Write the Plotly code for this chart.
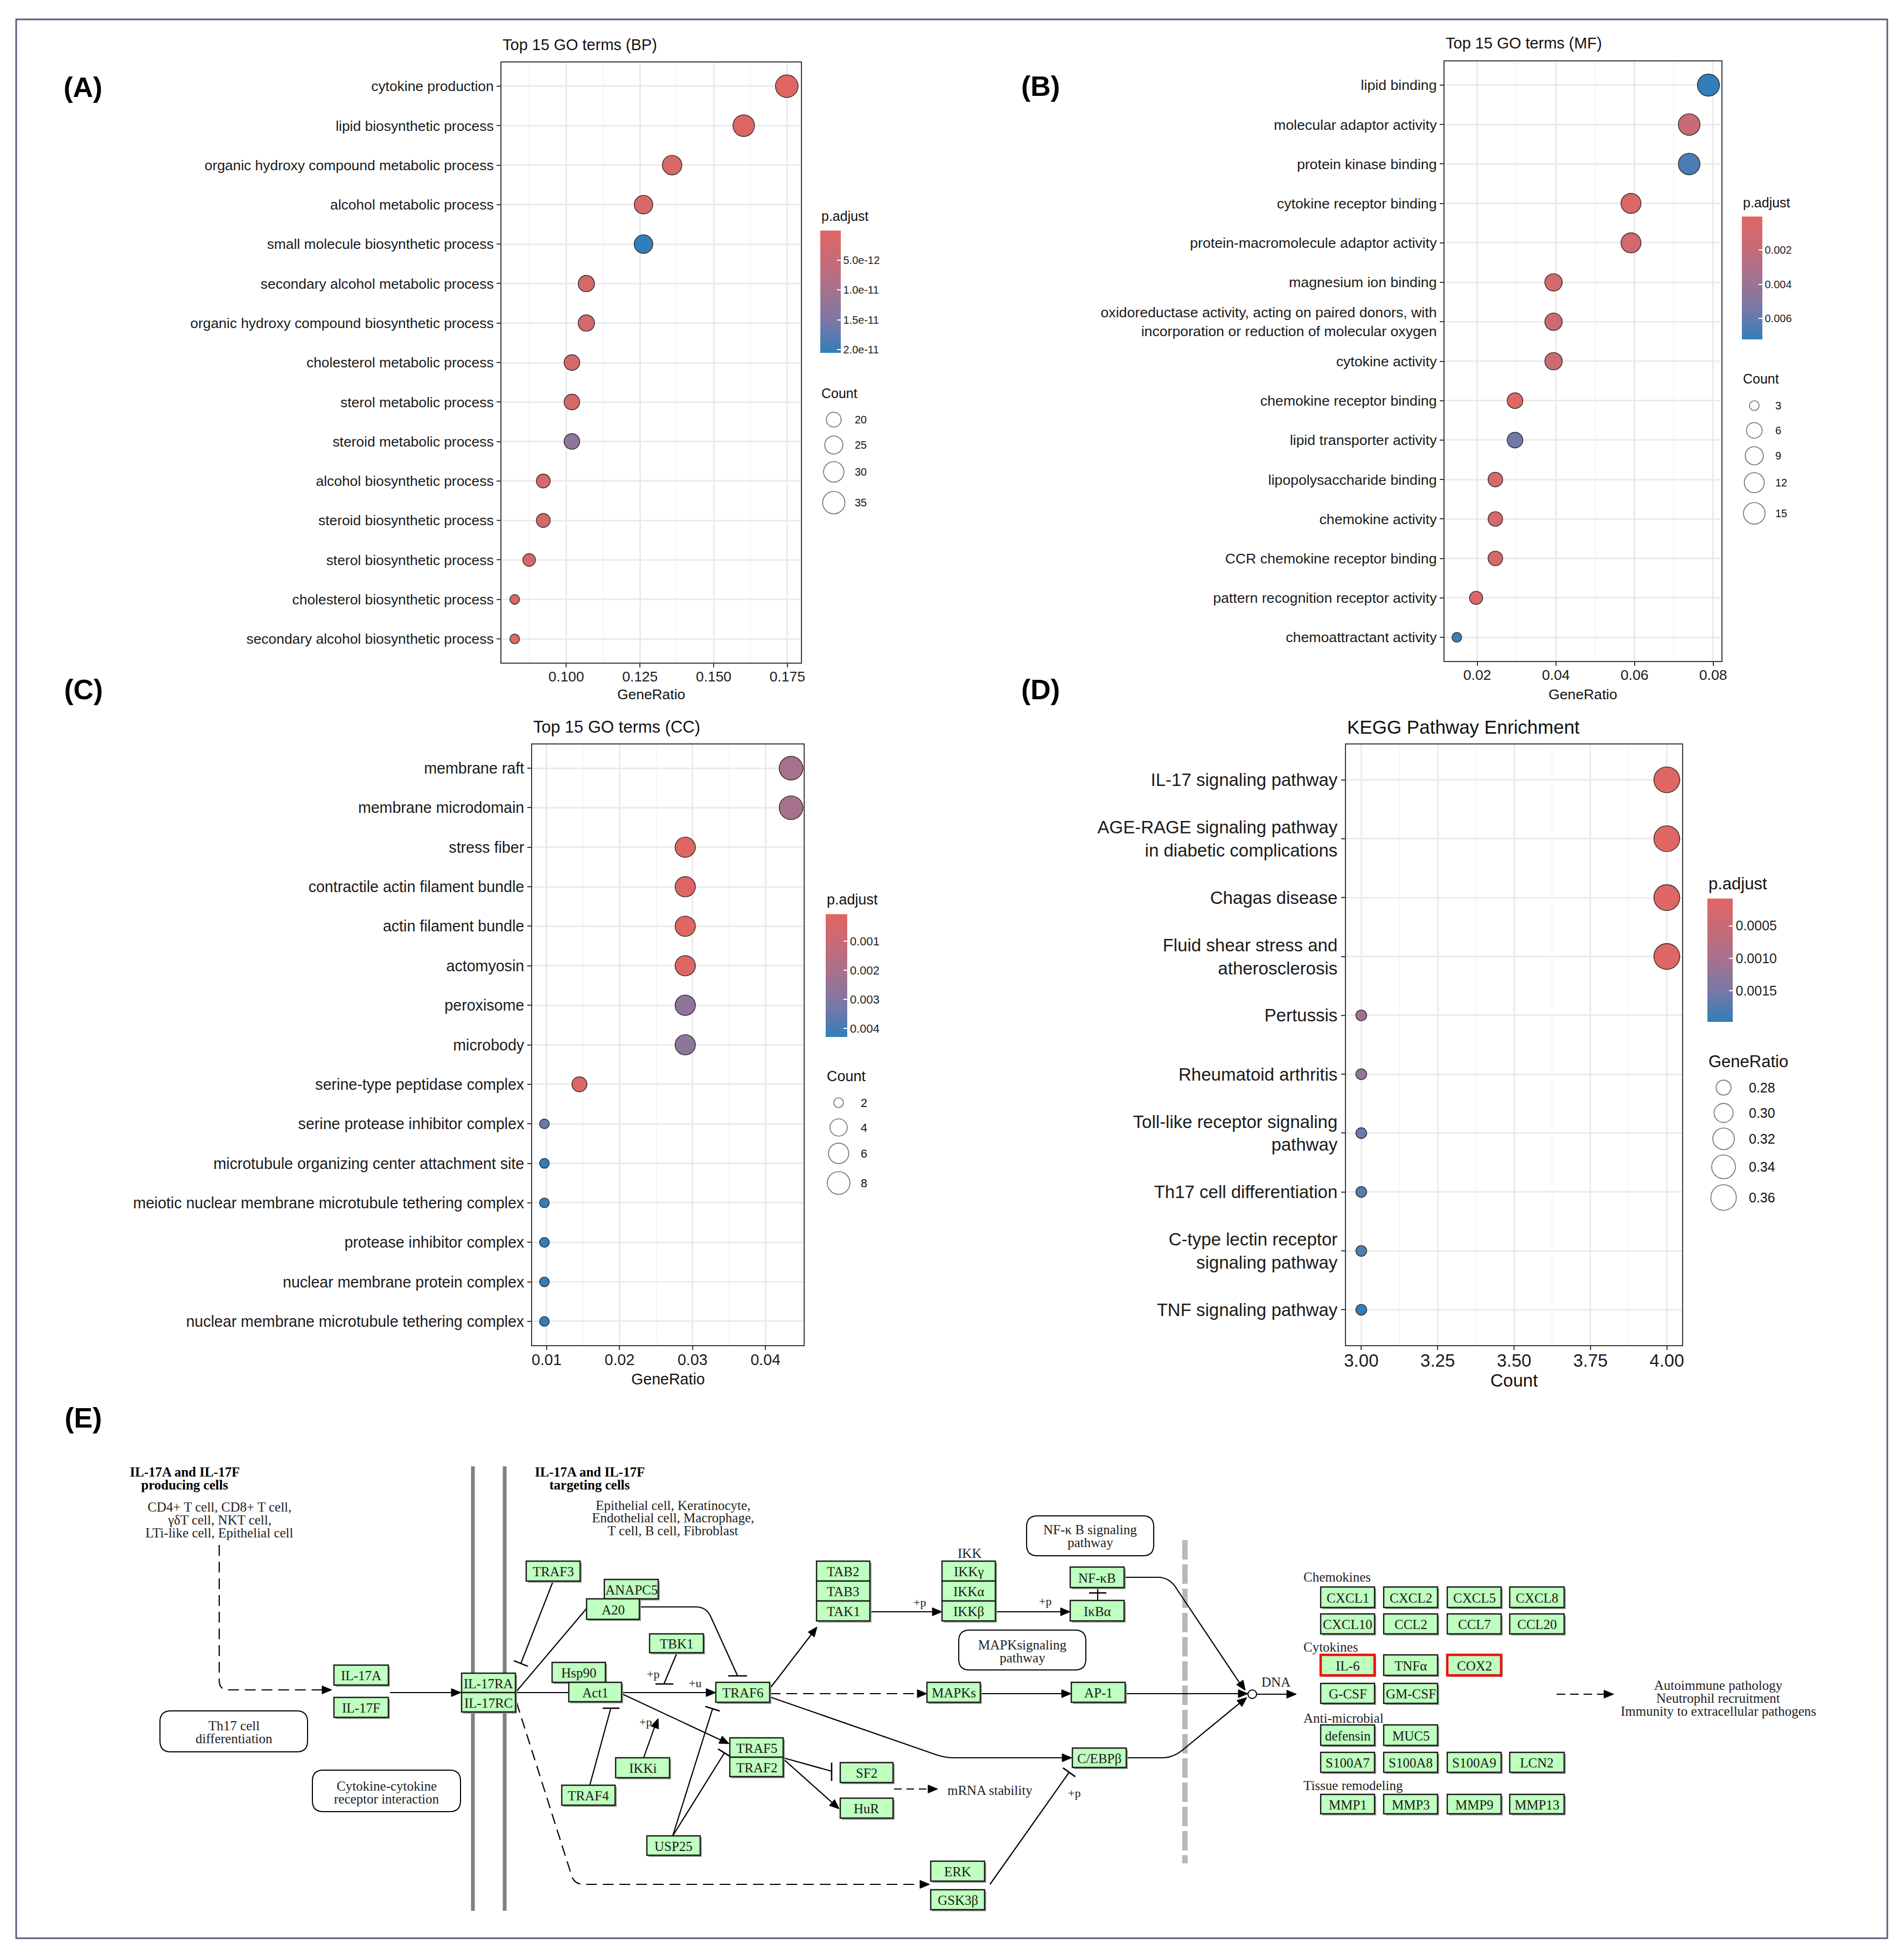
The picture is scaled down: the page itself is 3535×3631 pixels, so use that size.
import numpy as np
import plotly.graph_objects as go

W, H = 3535, 3631
SANS = "Liberation Sans, Arial, sans-serif"
SERIF = "Liberation Serif, Times New Roman, serif"
CS = [[0, '#327eba'], [0.25, '#7878a6'], [0.5, '#a4728f'], [0.75, '#c66b77'], [1, '#e06663']]

# ---------------- data ----------------
bp_terms = ["cytokine production", "lipid biosynthetic process",
            "organic hydroxy compound metabolic process", "alcohol metabolic process",
            "small molecule biosynthetic process", "secondary alcohol metabolic process",
            "organic hydroxy compound biosynthetic process", "cholesterol metabolic process",
            "sterol metabolic process", "steroid metabolic process", "alcohol biosynthetic process",
            "steroid biosynthetic process", "sterol biosynthetic process",
            "cholesterol biosynthetic process", "secondary alcohol biosynthetic process"]
bp_ratio = [0.1748, 0.1602, 0.1359, 0.1262, 0.1262, 0.1068, 0.1068, 0.1019, 0.1019, 0.1019,
            0.0922, 0.0922, 0.0874, 0.0825, 0.0825]
bp_count = [36, 33, 28, 26, 26, 22, 22, 21, 21, 21, 19, 19, 18, 17, 17]
bp_padj = [1.0e-13, 6e-13, 1.2e-12, 1.5e-12, 2.05e-11, 2.0e-12, 2.2e-12, 1.8e-12, 2.0e-12,
           1.25e-11, 1.5e-12, 2.3e-12, 1.4e-12, 1.0e-12, 1.1e-12]
bp_cb_ticks = [5e-12, 1e-11, 1.5e-11, 2e-11]
bp_cb_labels = ["5.0e-12", "1.0e-11", "1.5e-11", "2.0e-11"]
bp_size_breaks = [20, 25, 30, 35]

mf_terms = ["lipid binding", "molecular adaptor activity", "protein kinase binding",
            "cytokine receptor binding", "protein-macromolecule adaptor activity",
            "magnesium ion binding",
            "oxidoreductase activity, acting on paired donors, with<br>incorporation or reduction of molecular oxygen",
            "cytokine activity", "chemokine receptor binding", "lipid transporter activity",
            "lipopolysaccharide binding", "chemokine activity", "CCR chemokine receptor binding",
            "pattern recognition receptor activity", "chemoattractant activity"]
mf_ratio = [0.0788, 0.0739, 0.0739, 0.0591, 0.0591, 0.0394, 0.0394, 0.0394, 0.0296, 0.0296,
            0.0246, 0.0246, 0.0246, 0.0197, 0.0148]
mf_count = [16, 15, 15, 12, 12, 8, 8, 8, 6, 6, 5, 5, 5, 4, 3]
mf_padj = [0.00723, 0.0016, 0.0066, 0.0004, 0.0009, 0.0008, 0.0015, 0.0014, 0.00004, 0.0056,
           0.0006, 0.0006, 0.0007, 0.0003, 0.0068]
mf_cb_ticks = [0.002, 0.004, 0.006]
mf_cb_labels = ["0.002", "0.004", "0.006"]
mf_size_breaks = [3, 6, 9, 12, 15]

cc_terms = ["membrane raft", "membrane microdomain", "stress fiber",
            "contractile actin filament bundle", "actin filament bundle", "actomyosin",
            "peroxisome", "microbody", "serine-type peptidase complex",
            "serine protease inhibitor complex", "microtubule organizing center attachment site",
            "meiotic nuclear membrane microtubule tethering complex", "protease inhibitor complex",
            "nuclear membrane protein complex", "nuclear membrane microtubule tethering complex"]
cc_ratio = [0.0435, 0.0435, 0.0290, 0.0290, 0.0290, 0.0290, 0.0290, 0.0290, 0.0145, 0.0097,
            0.0097, 0.0097, 0.0097, 0.0097, 0.0097]
cc_count = [9, 9, 6, 6, 6, 6, 6, 6, 3, 2, 2, 2, 2, 2, 2]
cc_padj = [0.0021, 0.0021, 0.00008, 0.0001, 0.0001, 0.00015, 0.0027, 0.0027, 0.0002, 0.0035,
           0.00429, 0.00429, 0.00429, 0.00429, 0.00429]
cc_cb_ticks = [0.001, 0.002, 0.003, 0.004]
cc_cb_labels = ["0.001", "0.002", "0.003", "0.004"]
cc_size_breaks = [2, 4, 6, 8]

kegg_terms = ["IL-17 signaling pathway", "AGE-RAGE signaling pathway<br>in diabetic complications",
              "Chagas disease", "Fluid shear stress and<br>atherosclerosis", "Pertussis",
              "Rheumatoid arthritis", "Toll-like receptor signaling<br>pathway",
              "Th17 cell differentiation", "C-type lectin receptor<br>signaling pathway",
              "TNF signaling pathway"]
kegg_count = [4, 4, 4, 4, 3, 3, 3, 3, 3, 3]
kegg_ratio = [0.364, 0.364, 0.364, 0.364, 0.273, 0.273, 0.273, 0.273, 0.273, 0.273]
kegg_padj = [0.000079, 0.00009, 0.0001, 0.00012, 0.0011, 0.00125, 0.0016, 0.0017, 0.00175, 0.00198]
kegg_cb_ticks = [0.0005, 0.0010, 0.0015]
kegg_cb_labels = ["0.0005", "0.0010", "0.0015"]
kegg_size_breaks = [0.28, 0.30, 0.32, 0.34, 0.36]


def size_scale(v, lo, hi, dmin, dmax):
    v = np.asarray(v, float)
    return dmin + (dmax - dmin) * np.sqrt(np.clip((v - lo) / (hi - lo), 0, 1))


fig = go.Figure()
layout = {}
shapes, annos = [], []


def T(x, y, text, size, color='#111111', xa='center', ya='middle', font=SANS):
    annos.append(dict(x=x, y=y, xref='x5', yref='y5', text=text, showarrow=False,
                      xanchor=xa, yanchor=ya, font=dict(size=size, color=color, family=font)))


panels = [
    dict(i=1, terms=bp_terms, x=bp_ratio, s=bp_count, p=bp_padj, sb=bp_size_breaks,
         dom=(931, 1487, 116, 1230), xr=(0.078, 0.1796), dtick=0.025, tick0=0.1, mdt=0.0125,
         fmt='.3f', fs=26.4, title="Top 15 GO terms (BP)", tfs=29, tpos=(931, 83),
         xt="GeneRatio", xtpos=(1209, 1289), drange=(18, 42), tso=-6,
         cb=(1523, 428, 38, 227), cbt=bp_cb_ticks, cbl=bp_cb_labels, cbfs=20,
         pt=(1523, 401), ltfs=25, st="Count", stpos=(1523, 730),
         lx=1548, ly=[779, 826, 876, 933], llx=1585, lfs=20),
    dict(i=2, terms=mf_terms, x=mf_ratio, s=mf_count, p=mf_padj, sb=mf_size_breaks,
         dom=(2682, 3196, 114, 1227), xr=(0.01168, 0.0821), dtick=0.02, tick0=0.02, mdt=0.01,
         fmt='.2f', fs=26.7, title="Top 15 GO terms (MF)", tfs=29, tpos=(2682, 80),
         xt="GeneRatio", xtpos=(2939, 1289), drange=(18, 41), tso=-6,
         cb=(3234, 402, 38, 228), cbt=mf_cb_ticks, cbl=mf_cb_labels, cbfs=20,
         pt=(3234, 376), ltfs=25, st="Count", stpos=(3234, 703),
         lx=3257, ly=[753, 799, 846, 896, 953], llx=3294, lfs=20),
    dict(i=3, terms=cc_terms, x=cc_ratio, s=cc_count, p=cc_padj, sb=cc_size_breaks,
         dom=(988, 1492, 1382, 2497), xr=(0.00802, 0.04522), dtick=0.01, tick0=0.01, mdt=0.005,
         fmt='.2f', fs=28.6, title="Top 15 GO terms (CC)", tfs=31, tpos=(988, 1349),
         xt="GeneRatio", xtpos=(1240, 2560), drange=(18, 44), tso=-6,
         cb=(1533, 1697, 40, 228), cbt=cc_cb_ticks, cbl=cc_cb_labels, cbfs=22,
         pt=(1533, 1670), ltfs=27, st="Count", stpos=(1533, 1998),
         lx=1557, ly=[2047, 2093, 2141, 2196], llx=1596, lfs=22),
    dict(i=4, terms=kegg_terms, x=kegg_count, s=kegg_ratio, p=kegg_padj, sb=kegg_size_breaks,
         dom=(2499, 3123, 1382, 2497), xr=(2.95, 4.05), dtick=0.25, tick0=3.0, mdt=0.125,
         fmt='.2f', fs=33, title="KEGG Pathway Enrichment", tfs=35, tpos=(2499, 1349),
         xt="Count", xtpos=(2811, 2562), drange=(20, 48), tso=-9,
         cb=(3170, 1668, 47, 229), cbt=kegg_cb_ticks, cbl=kegg_cb_labels, cbfs=25,
         pt=(3170, 1640), ltfs=31, st="GeneRatio", stpos=(3170, 1970),
         lx=3200, ly=[2019, 2066, 2114, 2166, 2223], llx=3245, lfs=25),
]

leg_x, leg_y, leg_s = [], [], []
for P in panels:
    ax = '' if P['i'] == 1 else str(P['i'])
    x0, x1, y0, y1 = P['dom']
    lo, hi = min(P['s']), max(P['s'])
    sizes = size_scale(P['s'], lo, hi, *P['drange'])
    pmin, pmax = min(P['p']), max(P['p'])
    cbx, cby, cbw, cbh = P['cb']
    fig.add_trace(go.Scatter(
        x=P['x'], y=P['terms'], mode='markers', xaxis='x' + ax, yaxis='y' + ax,
        showlegend=False, hoverinfo='skip',
        marker=dict(size=sizes, color=[-v for v in P['p']], cmin=-pmax, cmax=-pmin,
                    colorscale=CS, opacity=1, line=dict(color='#2a2a2a', width=1.4),
                    showscale=True,
                    colorbar=dict(x=cbx / W, xanchor='left', y=1 - cby / H, yanchor='top',
                                  len=cbh, lenmode='pixels', thickness=cbw, thicknessmode='pixels',
                                  xpad=0, ypad=0, outlinewidth=0,
                                  tickvals=[-v for v in P['cbt']], ticktext=P['cbl'],
                                  ticks='inside', ticklen=7, tickcolor='white', tickwidth=2,
                                  tickfont=dict(size=P['cbfs'], color='#222222', family=SANS)))))
    layout['xaxis' + ax] = dict(
        domain=[x0 / W, x1 / W], anchor='y' + ax, range=list(P['xr']), dtick=P['dtick'],
        tick0=P['tick0'], tickformat=P['fmt'], showgrid=True, gridcolor='#EBEBEB', gridwidth=2.5,
        minor=dict(dtick=P['mdt'], tick0=P['tick0'], showgrid=True, gridcolor='#EFEFEF', gridwidth=1.3),
        zeroline=False, showline=True, mirror=True, linecolor='#3a3a3a', linewidth=2.2,
        ticks='outside', ticklen=7, tickwidth=2, tickcolor='#3a3a3a', ticklabelstandoff=P['tso'],
        tickfont=dict(size=P['fs'], color='#1a1a1a', family=SANS), fixedrange=True)
    layout['yaxis' + ax] = dict(
        domain=[1 - y1 / H, 1 - y0 / H], anchor='x' + ax, type='category',
        categoryorder='array', categoryarray=P['terms'],
        range=[len(P['terms']) - 0.4, -0.6], showgrid=True, gridcolor='#EBEBEB', gridwidth=2.5,
        zeroline=False, showline=True, mirror=True, linecolor='#3a3a3a', linewidth=2.2,
        ticks='outside', ticklen=7, tickwidth=2, tickcolor='#3a3a3a',
        tickfont=dict(size=P['fs'], color='#1a1a1a', family=SANS), fixedrange=True)
    T(P['tpos'][0], P['tpos'][1], P['title'], P['tfs'], xa='left')
    T(P['xtpos'][0], P['xtpos'][1], P['xt'], P['fs'])
    T(P['pt'][0], P['pt'][1], "p.adjust", P['ltfs'], xa='left')
    T(P['stpos'][0], P['stpos'][1], P['st'], P['ltfs'], xa='left')
    lsz = size_scale(P['sb'], lo, hi, *P['drange'])
    for b, yy, sz in zip(P['sb'], P['ly'], lsz):
        leg_x.append(P['lx'])
        leg_y.append(yy)
        leg_s.append(sz)
        lab = (f"{b:.2f}" if isinstance(b, float) else str(b))
        T(P['llx'], yy, lab, P['lfs'], xa='left')

fig.add_trace(go.Scatter(x=leg_x, y=leg_y, mode='markers', xaxis='x5', yaxis='y5',
                         showlegend=False, hoverinfo='skip',
                         marker=dict(size=leg_s, color='rgba(255,255,255,0)',
                                     line=dict(color='#333333', width=1.6))))
layout['xaxis5'] = dict(domain=[0, 1], range=[0, W], visible=False, anchor='y5', fixedrange=True)
layout['yaxis5'] = dict(domain=[0, 1], range=[H, 0], visible=False, anchor='x5', fixedrange=True)

# panel letters
for lab, (x, y) in zip(["(A)", "(B)", "(C)", "(D)", "(E)"],
                       [(154, 162), (1932, 160), (155, 1280), (1932, 1280), (154, 2632)]):
    T(x, y, "<b>" + lab + "</b>", 52, color='black')

# outer border
shapes.append(dict(type='rect', xref='x5', yref='y5', x0=30, y0=36, x1=3504, y1=3598,
                   line=dict(color='#56607a', width=3), fillcolor='rgba(0,0,0,0)'))

# ---------------- panel E : KEGG IL-17 pathway diagram ----------------
DASH = "20px,11px"


def pline(d, dash='solid', width=2.2, color='black'):
    shapes.append(dict(type='path', xref='x5', yref='y5', path=d,
                       line=dict(color=color, width=width, dash=dash), fillcolor='rgba(0,0,0,0)'))


def ahead(tx, ty, fx, fy, L=18, w=7.5):
    dx, dy = tx - fx, ty - fy
    n = np.hypot(dx, dy)
    ux, uy = dx / n, dy / n
    bx, by = tx - ux * L, ty - uy * L
    qx, qy = -uy, ux
    shapes.append(dict(type='path', xref='x5', yref='y5',
                       path=f"M {tx:.1f},{ty:.1f} L {bx + qx * w:.1f},{by + qy * w:.1f} L {bx - qx * w:.1f},{by - qy * w:.1f} Z",
                       fillcolor='black', line=dict(color='black', width=1)))


def tbar(tx, ty, fx, fy, h=14):
    dx, dy = tx - fx, ty - fy
    n = np.hypot(dx, dy)
    qx, qy = -dy / n, dx / n
    pline(f"M {tx + qx * h:.1f},{ty + qy * h:.1f} L {tx - qx * h:.1f},{ty - qy * h:.1f}", width=2.6)


def rbox(x0, y0, x1, y1, r=20):
    pline(f"M {x0 + r},{y0} L {x1 - r},{y0} Q {x1},{y0} {x1},{y0 + r} L {x1},{y1 - r} Q {x1},{y1} {x1 - r},{y1} "
          f"L {x0 + r},{y1} Q {x0},{y1} {x0},{y1 - r} L {x0},{y0 + r} Q {x0},{y0} {x0 + r},{y0} Z", width=2)


def kbox(label, x0, y0, x1, y1, red=False):
    shapes.append(dict(type='rect', xref='x5', yref='y5', x0=x0 + 3, y0=y0 + 3, x1=x1 + 3, y1=y1 + 3,
                       fillcolor='#9c9c9c', line=dict(width=0)))
    shapes.append(dict(type='rect', xref='x5', yref='y5', x0=x0, y0=y0, x1=x1, y1=y1,
                       fillcolor='#bfffbf', line=dict(color='#ee1111' if red else '#1a1a1a',
                                                     width=4.5 if red else 2.4)))
    T((x0 + x1) / 2, (y0 + y1) / 2 + 1, label, 25, color='#1a1a1a', font=SERIF)


# membranes
pline("M 878,2722 L 878,3547", width=7, color='#808080')
pline("M 937,2722 L 937,3547", width=7, color='#808080')
pline("M 2200,2859 L 2200,3459", dash="36px,9px", width=10, color='#b8b8b8')

# edges
pline("M 407,2868 L 407,3120 Q 407,3137 424,3137 L 600,3137", dash=DASH)
ahead(616, 3137, 600, 3137)
pline("M 724,3142 L 840,3142")
ahead(856, 3142, 724, 3142)
pline("M 1027,2935 L 967,3088")
tbar(967, 3088, 1027, 2935)
pline("M 957,3142 L 1089,2986")
pline("M 1187,2983 L 1292,2983 Q 1312,2983 1320,3002 L 1369,3110")
pline("M 1352,3111 L 1387,3111", width=2.6)
pline("M 957,3142 L 1313,3142")
ahead(1329, 3142, 957, 3142)
pline("M 1257,3068 L 1233,3125")
pline("M 1217,3126 L 1250,3126", width=2.6)
pline("M 1095,3314 L 1134,3171")
pline("M 1119,3171 L 1150,3171", width=2.6)
pline("M 1195,3263 L 1216,3204")
ahead(1222, 3190, 1195, 3263)
pline("M 1154,3144 L 1338,3230")
ahead(1354, 3237, 1154, 3144)
pline("M 1249,3408 L 1323,3172")
tbar(1323, 3172, 1249, 3408)
pline("M 1249,3408 L 1345,3254")
tbar(1345, 3254, 1249, 3408)
pline("M 959,3160 L 1062,3484 Q 1067,3498 1085,3498 L 1710,3498", dash=DASH)
ahead(1726, 3498, 1700, 3498)
pline("M 1429,3135 L 1508,3032")
ahead(1517, 3020, 1429, 3135)
pline("M 1615,2992 L 1733,2992")
ahead(1749, 2992, 1615, 2992)
pline("M 1848,2992 L 1971,2992")
ahead(1987, 2992, 1848, 2992)
pline("M 2038,2947 L 2038,2971")
pline("M 2022,2957 L 2054,2957", width=2.6)
pline("M 2087,2928 L 2150,2928 Q 2172,2928 2185,2950 L 2304,3128")
ahead(2312, 3138, 2185, 2950)
pline("M 1429,3144 L 1705,3144", dash=DASH)
ahead(1721, 3144, 1429, 3144)
pline("M 1820,3144 L 1973,3144")
ahead(1989, 3144, 1820, 3144)
pline("M 2089,3144 L 2301,3144")
ahead(2317, 3144, 2089, 3144)
pline("M 1429,3150 L 1740,3258 Q 1755,3263 1772,3263 L 1974,3263")
ahead(1990, 3263, 1774, 3263)
pline("M 2091,3263 L 2158,3263 Q 2180,3263 2200,3245 L 2306,3158")
ahead(2315, 3151, 2200, 3245)
pline("M 1454,3263 L 1544,3288")
pline("M 1544,3272 L 1544,3306", width=2.6)
pline("M 1454,3265 L 1547,3348")
ahead(1558, 3358, 1454, 3265)
pline("M 1660,3321 L 1726,3321", dash="14px,9px")
ahead(1741, 3321, 1660, 3321)
pline("M 1838,3498 L 1985,3290")
tbar(1985, 3290, 1838, 3498)
pline("M 2333,3145 L 2391,3145")
ahead(2407, 3145, 2333, 3145)
pline("M 2890,3145 L 2980,3145", dash="16px,9px")
ahead(2996, 3145, 2890, 3145)
shapes.append(dict(type='circle', xref='x5', yref='y5', x0=2317, y0=3137, x1=2333, y1=3153,
                   fillcolor='white', line=dict(color='black', width=2)))

# rounded info boxes
rbox(297, 3176, 571, 3252)
rbox(580, 3286, 855, 3363)
rbox(1906, 2814, 2142, 2888)
rbox(1780, 3026, 2016, 3100)

# gene boxes
kboxes = [("IL-17A", 620, 3091, 721, 3128), ("IL-17F", 620, 3151, 721, 3188),
          ("IL-17RA", 857, 3106, 957, 3142), ("IL-17RC", 857, 3142, 957, 3178),
          ("TRAF3", 977, 2898, 1077, 2935), ("ANAPC5", 1122, 2932, 1222, 2968),
          ("A20", 1089, 2968, 1187, 3006), ("TBK1", 1206, 3033, 1306, 3068),
          ("Hsp90", 1025, 3086, 1124, 3123), ("Act1", 1056, 3123, 1154, 3159),
          ("TRAF6", 1329, 3123, 1429, 3160), ("TRAF5", 1355, 3226, 1454, 3262),
          ("TRAF2", 1355, 3262, 1454, 3298), ("IKKi", 1143, 3263, 1243, 3300),
          ("TRAF4", 1043, 3314, 1142, 3351), ("USP25", 1201, 3408, 1300, 3444),
          ("TAB2", 1516, 2898, 1615, 2935), ("TAB3", 1516, 2935, 1615, 2972),
          ("TAK1", 1516, 2972, 1615, 3009), ("IKKγ", 1749, 2898, 1848, 2935),
          ("IKKα", 1749, 2935, 1848, 2972), ("IKKβ", 1749, 2972, 1848, 3009),
          ("NF-κB", 1987, 2909, 2087, 2947), ("IκBα", 1987, 2971, 2087, 3009),
          ("MAPKs", 1721, 3123, 1820, 3160), ("AP-1", 1989, 3123, 2089, 3160),
          ("C/EBPβ", 1991, 3245, 2091, 3281), ("SF2", 1560, 3272, 1658, 3309),
          ("HuR", 1560, 3338, 1658, 3375), ("ERK", 1728, 3455, 1828, 3492),
          ("GSK3β", 1728, 3508, 1828, 3545)]
for b in kboxes:
    kbox(*b)

cols = [(2452, 2552), (2569, 2669), (2687, 2787), (2803, 2904)]
gene_rows = [((2946, 2984), ["CXCL1", "CXCL2", "CXCL5", "CXCL8"]),
             ((2996, 3033), ["CXCL10", "CCL2", "CCL7", "CCL20"]),
             ((3072, 3110), ["IL-6", "TNFα", "COX2"]),
             ((3125, 3162), ["G-CSF", "GM-CSF"]),
             ((3202, 3240), ["defensin", "MUC5"]),
             ((3253, 3290), ["S100A7", "S100A8", "S100A9", "LCN2"]),
             ((3331, 3367), ["MMP1", "MMP3", "MMP9", "MMP13"])]
highlight = ["IL-6", "COX2"]
for (ya, yb), names in gene_rows:
    for (xa, xb), nm in zip(cols, names):
        kbox(nm, xa, ya, xb, yb, red=nm in highlight)

# diagram texts
FS = 25
T(343, 2732, "<b>IL-17A and IL-17F</b>", FS, 'black', font=SERIF)
T(343, 2756, "<b>producing cells</b>", FS, 'black', font=SERIF)
for yy, tx in zip([2797, 2821, 2845], ["CD4+ T cell, CD8+ T cell,", "γδT cell, NKT cell,",
                                        "LTi-like cell, Epithelial cell"]):
    T(407, yy, tx, FS, '#222222', font=SERIF)
T(1095, 2732, "<b>IL-17A and IL-17F</b>", FS, 'black', font=SERIF)
T(1095, 2756, "<b>targeting cells</b>", FS, 'black', font=SERIF)
for yy, tx in zip([2794, 2817, 2841], ["Epithelial cell, Keratinocyte,",
                                        "Endothelial cell, Macrophage,", "T cell, B cell, Fibroblast"]):
    T(1249, yy, tx, FS, '#222222', font=SERIF)
T(434, 3203, "Th17 cell", FS, '#222222', font=SERIF)
T(434, 3227, "differentiation", FS, '#222222', font=SERIF)
T(718, 3315, "Cytokine-cytokine", FS, '#222222', font=SERIF)
T(718, 3339, "receptor interaction", FS, '#222222', font=SERIF)
T(2024, 2839, "NF-κ B signaling", FS, '#222222', font=SERIF)
T(2024, 2863, "pathway", FS, '#222222', font=SERIF)
T(1898, 3053, "MAPKsignaling", FS, '#222222', font=SERIF)
T(1898, 3077, "pathway", FS, '#222222', font=SERIF)
T(1800, 2883, "IKK", FS, '#222222', font=SERIF)
T(1290, 3124, "+u", 22, '#222222', font=SERIF)
T(1212, 3107, "+p", 22, '#222222', font=SERIF)
T(1198, 3196, "+p", 22, '#222222', font=SERIF)
T(1707, 2974, "+p", 22, '#222222', font=SERIF)
T(1940, 2972, "+p", 22, '#222222', font=SERIF)
T(1994, 3328, "+p", 22, '#222222', font=SERIF)
T(1838, 3323, "mRNA stability", FS, '#222222', font=SERIF)
T(2340, 3122, "DNA", FS, '#222222', xa='left', font=SERIF)
T(2418, 2927, "Chemokines", FS, '#222222', xa='left', font=SERIF)
T(2418, 3057, "Cytokines", FS, '#222222', xa='left', font=SERIF)
T(2418, 3189, "Anti-microbial", FS, '#222222', xa='left', font=SERIF)
T(2418, 3314, "Tissue remodeling", FS, '#222222', xa='left', font=SERIF)
for yy, tx in zip([3128, 3152, 3176], ["Autoimmune pathology", "Neutrophil recruitment",
                                        "Immunity to extracellular pathogens"]):
    T(3190, yy, tx, FS, '#222222', font=SERIF)

fig.update_layout(width=W, height=H, autosize=False, template='none',
                  margin=dict(l=0, r=0, t=0, b=0, pad=0),
                  paper_bgcolor='white', plot_bgcolor='rgba(0,0,0,0)',
                  showlegend=False, hovermode=False,
                  shapes=shapes, annotations=annos, **layout)
fig.write_html("out.html", config={'displayModeBar': False},
               post_script="document.body.style.margin='0px';")
